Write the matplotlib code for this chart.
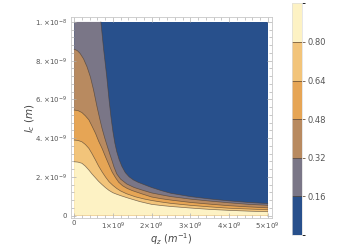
import numpy as np
import matplotlib.pyplot as plt
from matplotlib.colors import ListedColormap, BoundaryNorm
from matplotlib.ticker import AutoMinorLocator
import matplotlib as mpl

# contour levels and band colours
levels = [0, 0.16, 0.32, 0.48, 0.64, 0.80, 0.96]
band_colors = ['#28508c', '#7a7687', '#b88a60', '#e6a555', '#f2c47a', '#fdf2c4']

# domain (q_z in 1e9 m^-1, l_c in 1e-9 m)
q_range = [0.0, 5.0]
l_range = [0.0, 10.0]

# contour lines
q_016 = [0.69, 0.76, 0.84, 0.90, 0.95, 1.00, 1.05, 1.10, 1.16, 1.23, 1.32, 1.42, 1.53, 1.65, 1.83, 2.00, 2.25, 2.50, 3.00, 3.50, 4.00, 4.50, 5.00]
l_016 = [10.0, 8.6, 7.2, 6.0, 5.1, 4.35, 3.75, 3.30, 2.90, 2.55, 2.22, 2.00, 1.84, 1.72, 1.58, 1.45, 1.29, 1.15, 0.98, 0.86, 0.76, 0.68, 0.62]

q_032 = [0.0, 0.08, 0.15, 0.24, 0.33, 0.42, 0.50, 0.59, 0.66, 0.72, 0.79, 0.86, 0.92, 0.97, 1.03, 1.10, 1.20, 1.36, 1.55, 1.75, 2.00, 2.25, 2.50, 3.00, 3.50, 4.00, 4.50, 5.00]
l_032 = [8.59, 8.52, 8.38, 8.10, 7.69, 7.15, 6.49, 5.62, 5.00, 4.50, 4.00, 3.55, 3.18, 2.88, 2.50, 2.15, 1.88, 1.63, 1.45, 1.32, 1.17, 1.07, 0.98, 0.85, 0.75, 0.66, 0.58, 0.53]

q_048 = [0.0, 0.10, 0.20, 0.29, 0.38, 0.46, 0.55, 0.63, 0.72, 0.81, 0.90, 0.98, 1.07, 1.15, 1.25, 1.37, 1.50, 1.75, 2.00, 2.25, 2.50, 3.00, 3.50, 4.00, 4.50, 5.00]
l_048 = [5.45, 5.42, 5.32, 5.15, 4.94, 4.62, 4.25, 3.85, 3.47, 3.03, 2.61, 2.25, 1.95, 1.72, 1.54, 1.40, 1.29, 1.12, 0.96, 0.87, 0.80, 0.68, 0.59, 0.51, 0.45, 0.40]

q_064 = [0.0, 0.10, 0.20, 0.29, 0.38, 0.46, 0.55, 0.63, 0.72, 0.81, 0.90, 1.00, 1.10, 1.20, 1.35, 1.58, 1.80, 2.00, 2.25, 2.50, 3.00, 3.50, 4.00, 4.50, 5.00]
l_064 = [3.90, 3.88, 3.81, 3.67, 3.47, 3.20, 2.87, 2.56, 2.26, 1.99, 1.75, 1.56, 1.40, 1.27, 1.13, 0.97, 0.86, 0.78, 0.70, 0.63, 0.53, 0.45, 0.38, 0.34, 0.30]

q_080 = [0.0, 0.10, 0.20, 0.29, 0.38, 0.46, 0.55, 0.63, 0.72, 0.81, 0.90, 1.00, 1.10, 1.20, 1.40, 1.70, 2.00, 2.25, 2.50, 3.00, 3.50, 4.00, 4.50, 5.00]
l_080 = [2.78, 2.76, 2.70, 2.55, 2.35, 2.15, 1.95, 1.77, 1.60, 1.44, 1.30, 1.18, 1.10, 1.03, 0.90, 0.72, 0.58, 0.52, 0.47, 0.39, 0.32, 0.27, 0.23, 0.20]

curves = [(q_016, l_016), (q_032, l_032), (q_048, l_048), (q_064, l_064), (q_080, l_080)]

y_ticks = [0, 2, 4, 6, 8, 10]
y_ticklabels = ['0', r'$2.\!\times\!10^{-9}$', r'$4.\!\times\!10^{-9}$', r'$6.\!\times\!10^{-9}$',
                r'$8.\!\times\!10^{-9}$', r'$1.\!\times\!10^{-8}$']
x_ticks = [0, 1, 2, 3, 4, 5]
x_ticklabels = ['0', r'$1\!\times\!10^{9}$', r'$2\!\times\!10^{9}$', r'$3\!\times\!10^{9}$',
                r'$4\!\times\!10^{9}$', r'$5\!\times\!10^{9}$']

fig = plt.figure(figsize=(3.51, 2.48), dpi=100)
ax = fig.add_axes([0.2014, 0.1198, 0.5735, 0.8105])

def scale(q, l):
    return np.asarray(q) * 1e9, np.asarray(l) * 1e-9

# lowest band covers the whole domain
qx, ly = scale([q_range[0], q_range[1], q_range[1], q_range[0]],
               [l_range[0], l_range[0], l_range[1], l_range[1]])
ax.fill(qx, ly, color=band_colors[0], lw=0)

# each band is the region below its contour line
for (q, l), c in zip(curves, band_colors[1:]):
    qp = [q_range[0]] + ([q_range[0]] if q[0] > q_range[0] else []) + list(q) + [q_range[1]]
    lp = [l_range[0]] + ([l[0]] if q[0] > q_range[0] else []) + list(l) + [l_range[0]]
    qx, ly = scale(qp, lp)
    ax.fill(qx, ly, color=c, lw=0)

for q, l in curves:
    qx, ly = scale(q, l)
    ax.plot(qx, ly, color='#4a3c30', lw=0.5, alpha=0.7)

ax.set_xlim(-0.09e9, 5.11e9)
ax.set_ylim(-0.14e-9, 10.24e-9)
ax.set_xticks(np.array(x_ticks) * 1e9)
ax.set_xticklabels(x_ticklabels)
ax.set_yticks(np.array(y_ticks) * 1e-9)
ax.set_yticklabels(y_ticklabels)
ax.xaxis.set_minor_locator(AutoMinorLocator(5))
ax.yaxis.set_minor_locator(AutoMinorLocator(5))
ax.tick_params(which='both', direction='in', top=True, right=True, color='#b0b0b0',
               labelcolor='#555555', labelsize=5, width=0.5)
ax.tick_params(which='major', length=3.5, pad=2.5)
ax.tick_params(which='minor', length=2)
ax.tick_params(axis='x', which='major', pad=1.5)
for s in ax.spines.values():
    s.set_color('#c8c8c8')
    s.set_linewidth(0.6)

ax.set_xlabel(r'$q_z\ (m^{-1})$', fontsize=7, color='#444444', va='center')
ax.xaxis.set_label_coords(0.5, -0.102)
ax.set_ylabel(r'$l_c\ (m)$', fontsize=7.5, color='#444444', va='center')
ax.yaxis.set_label_coords(-0.202, 0.5)

# bar legend
cax = fig.add_axes([0.8328, 0.0524, 0.0268, 0.934])
cmap = ListedColormap(band_colors)
norm = BoundaryNorm(levels, cmap.N)
cb = fig.colorbar(mpl.cm.ScalarMappable(norm=norm, cmap=cmap), cax=cax,
                  boundaries=levels, ticks=levels[1:-1])
cb.ax.set_yticklabels(['%.2f' % v for v in levels[1:-1]])
cb.outline.set_edgecolor('#dddddd')
cb.outline.set_linewidth(0.5)
for v in levels[1:-1]:
    cb.ax.axhline(v, color='#5a4632', lw=0.6, alpha=0.8)
cb.ax.tick_params(length=2.5, width=0.6, color='#6a5540', labelsize=6, labelcolor='#555555', pad=1.5)

fig.savefig('out.png', dpi=100)
